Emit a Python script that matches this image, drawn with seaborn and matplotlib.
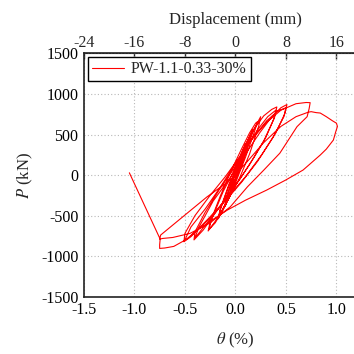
import numpy as np
import pandas as pd
import matplotlib
matplotlib.use('Agg')
from matplotlib import pyplot as plt
import seaborn as sns

c1_theta = [0, 0.03, 0.05, 0.04, 0.0, -0.03, -0.05, -0.04, 0.0, 0.03, 0.05, 0.04, 0.0, -0.03, -0.05, -0.04, -0.01]
c1_load = [0, 120, 210, 140, -40, -140, -220, -150, 30, 130, 200, 130, -50, -150, -210, -140, 0]

c2_theta = [0.03, 0.07, 0.1, 0.09, 0.05, 0.0, -0.05, -0.09, -0.1, -0.09, -0.04, 0.01, 0.06, 0.1, 0.09, 0.04, -0.02, -0.07, -0.1, -0.09, -0.03]
c2_load = [130, 280, 390, 300, 120, -80, -250, -340, -380, -290, -110, 90, 270, 370, 280, 90, -150, -300, -360, -270, -60]

c3_theta = [0.03, 0.09, 0.14, 0.17, 0.15, 0.08, 0.0, -0.07, -0.13, -0.17, -0.15, -0.07, 0.02, 0.1, 0.15, 0.17, 0.14, 0.06, -0.03, -0.11, -0.17, -0.15, -0.06]
c3_load = [120, 330, 480, 560, 460, 190, -60, -280, -450, -540, -430, -150, 120, 360, 500, 540, 420, 140, -140, -380, -530, -420, -100]

c4_theta = [0.04, 0.12, 0.19, 0.25, 0.23, 0.14, 0.04, -0.07, -0.17, -0.24, -0.27, -0.25, -0.15, -0.04, 0.06, 0.14, 0.2, 0.22, 0.19, 0.1, 0.0, -0.1, -0.2, -0.26, -0.24, -0.12]
c4_load = [100, 380, 580, 720, 600, 260, -40, -300, -520, -640, -690, -580, -260, 60, 320, 520, 640, 660, 540, 220, -100, -380, -590, -670, -560, -200]

c5_theta = [-0.02, 0.08, 0.18, 0.28, 0.36, 0.41, 0.39, 0.3, 0.18, 0.05, -0.08, -0.2, -0.32, -0.41, -0.4, -0.3, -0.16, -0.02, 0.1, 0.22, 0.32, 0.4, 0.38, 0.28, 0.14, 0.0, -0.14, -0.27, -0.37, -0.4, -0.36, -0.22]
c5_load = [40, 330, 560, 730, 810, 840, 720, 460, 210, -40, -260, -470, -680, -800, -700, -460, -180, 70, 320, 560, 720, 800, 690, 420, 130, -130, -370, -570, -730, -770, -640, -320]

c6_theta = [-0.05, 0.1, 0.24, 0.36, 0.45, 0.51, 0.49, 0.4, 0.26, 0.1, -0.06, -0.2, -0.33, -0.44, -0.51, -0.5, -0.4, -0.25, -0.1, 0.04, 0.18, 0.31, 0.42, 0.5, 0.48, 0.37, 0.22, 0.06, -0.1, -0.25, -0.38, -0.48, -0.5, -0.44, -0.3]
c6_load = [-30, 260, 520, 720, 830, 870, 760, 520, 250, -20, -250, -450, -620, -760, -823, -720, -500, -250, -20, 220, 470, 670, 790, 830, 720, 460, 170, -90, -320, -520, -680, -790, -800, -640, -420]

c7_theta = [-0.15, 0.0, 0.15, 0.3, 0.45, 0.6, 0.7, 0.74, 0.73, 0.71, 0.61, 0.44, 0.28, 0.12, -0.05, -0.25, -0.45, -0.62, -0.72, -0.75, -0.74, -0.64, -0.48, -0.28, -0.05, 0.12, 0.28, 0.45, 0.6, 0.72, 0.75]
c7_load = [-150, 140, 420, 640, 800, 880, 895, 893, 820, 720, 597, 270, 60, -144, -391, -590, -720, -770, -782, -790, -740, -637, -473, -268, -62, 170, 400, 600, 720, 775, 782]

c8_theta = [0.8, 0.84, 0.9, 0.96, 1.0, 1.01, 0.99, 0.97, 0.9, 0.84, 0.75, 0.67, 0.5, 0.31, 0.1, -0.08, -0.25, -0.4, -0.48, -0.61, -0.7, -0.75, -0.75, -0.745, -1.05]
c8_load = [770, 765, 720, 670, 640, 600, 520, 432, 320, 247, 150, 62, -60, -185, -310, -432, -570, -700, -790, -880, -900, -905, -860, -790, 28]

x_ticks = [-1.5, -1.0, -0.5, 0.0, 0.5, 1.0]
y_ticks = [-1500, -1000, -500, 0, 500, 1000, 1500]
top_ticks = [-24, -16, -8, 0, 8, 16]
series_name = 'PW-1.1-0.33-30%'

theta = np.concatenate([c1_theta, c2_theta, c3_theta, c4_theta, c5_theta, c6_theta, c7_theta, c8_theta])
load = np.concatenate([c1_load, c2_load, c3_load, c4_load, c5_load, c6_load, c7_load, c8_load])
df = pd.DataFrame({'theta': theta, 'load': load})

sns.set_style('white')
plt.rcParams['font.family'] = ['Liberation Serif', 'DejaVu Serif']
plt.rcParams['mathtext.fontset'] = 'stix'
plt.rcParams['axes.unicode_minus'] = False
plt.rcParams['font.size'] = 11

fig = plt.figure(figsize=(3.54, 3.54), dpi=100)
# right side of the axes runs past the figure edge, as in the source
ax = fig.add_axes([0.237, 0.162, 0.856, 0.687])

sns.lineplot(data=df, x='theta', y='load', sort=False, estimator=None,
             color='#ff0000', linewidth=0.8, label=series_name, ax=ax)

ax.set_xlim(-1.5, 1.5)
ax.set_ylim(-1500, 1500)
ax.set_xticks(x_ticks)
ax.set_xticklabels(['%.1f' % v for v in x_ticks])
ax.set_yticks(y_ticks)
ax.grid(True, color='#b8b8b8', linestyle=(0, (1, 2)), linewidth=0.8)

for s in ['left', 'bottom', 'top']:
    ax.spines[s].set_color('#222222')
    ax.spines[s].set_linewidth(1.2)
ax.spines['right'].set_visible(False)

ax.tick_params(axis='x', direction='in', length=4, width=1, labelsize=11.5, pad=4, colors='#222222', labelcolor='black')
ax.tick_params(axis='y', direction='out', length=3, width=1, labelsize=11.5, pad=1, colors='#222222', labelcolor='black')

ax.set_xlabel(r'$\theta$ (%)', fontsize=12, labelpad=9)
ax.set_ylabel(r'$P$ (kN)', fontsize=12, labelpad=4)

sec = ax.secondary_xaxis('top', functions=(lambda t: t * 16, lambda d: d / 16))
sec.set_xticks(top_ticks)
sec.tick_params(direction='in', length=4, width=1, labelsize=11.5, pad=2)
sec.set_xlabel('Displacement (mm)', fontsize=12, labelpad=8)

leg = ax.legend(loc='upper left', fontsize=11.5, frameon=True, fancybox=False,
                borderpad=0.25, handlelength=2.0, borderaxespad=0.25, handletextpad=0.45)
leg.get_frame().set_edgecolor('black')
leg.get_frame().set_linewidth(1.0)
leg.get_frame().set_alpha(1)

fig.savefig('out.png', dpi=100)
